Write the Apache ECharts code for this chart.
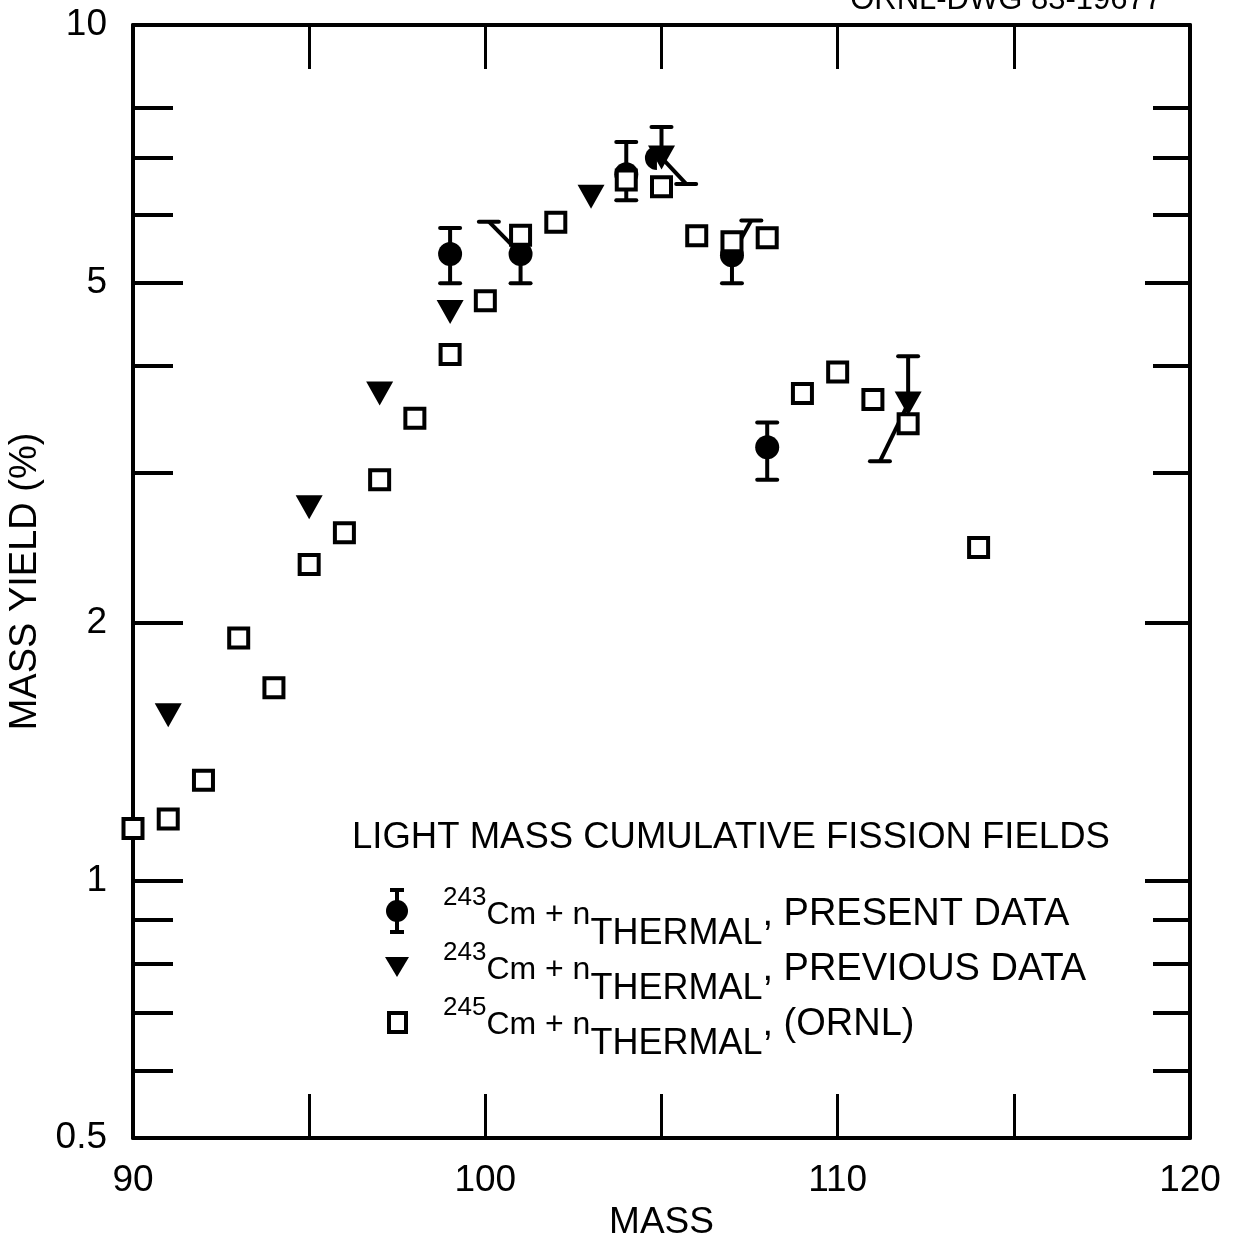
<!DOCTYPE html>
<html><head><meta charset="utf-8">
<script src="https://cdn.jsdelivr.net/npm/echarts@6/dist/echarts.min.js"></script>
<style>html,body{margin:0;padding:0;background:#fff}#c{width:1238px;height:1236px}</style>
</head><body><div id="c"></div>
<script>
// ---------------- data ----------------
const ornlX = [90, 91, 92, 93, 94, 95, 96, 97, 98, 99, 100, 101, 102, 104, 105, 106, 107, 108, 109, 110, 111, 112, 114];
const ornlY = [1.15, 1.18, 1.31, 1.92, 1.68, 2.34, 2.55, 2.94, 3.47, 4.12, 4.76, 5.68, 5.88, 6.59, 6.47, 5.67, 5.58, 5.64, 3.71, 3.93, 3.65, 3.42, 2.45];

const presentX = [99, 101, 104, 107, 108];
const presentY = [5.40, 5.40, 6.69, 5.38, 3.21];
const presentLow = [4.99, 4.99, 6.24, 4.99, 2.94];
const presentHigh = [5.79, null, 7.30, null, 3.43];
const presentHalfX = [104.7];
const presentHalfY = [6.99];

const previousX = [91, 95, 97, 99, 103, 105, 112];
const previousY = [1.56, 2.73, 3.71, 4.62, 6.30, 7.00, 3.61];
const previousHigh = [null, null, null, null, null, 7.60, 4.10];

// slanted error bars (from point to capped end)
const slantFromX = [101, 107, 105, 112];
const slantFromY = [5.40, 5.38, 7.00, 3.61];
const slantToX = [100.1, 107.55, 105.7, 111.2];
const slantToY = [5.89, 5.91, 6.52, 3.09];

const xLabelValues = [90, 100, 110, 120];
const xTickValues = [95, 100, 105, 110, 115];
const yLabelValues = [0.5, 1, 2, 5, 10];
const yMajorTicks = [1, 2, 5];
const yMinorTicks = [0.6, 0.7, 0.8, 0.9, 3, 4, 6, 7, 8];

// ---------------- build ----------------
const FONT = '"Liberation Sans", Arial, Helvetica, sans-serif';
const BLACK = '#000';

const vBars = [];
presentX.forEach((x, i) => {
  if (presentLow[i] != null) vBars.push([x, presentY[i], presentLow[i]]);
  if (presentHigh[i] != null) vBars.push([x, presentY[i], presentHigh[i]]);
});
previousX.forEach((x, i) => {
  if (previousHigh[i] != null) vBars.push([x, previousY[i], previousHigh[i]]);
});
const sBars = slantFromX.map((x, i) => [x, slantFromY[i], slantToX[i], slantToY[i]]);

const zip = (a, b) => a.map((v, i) => [v, b[i]]);

function capLine(px, py, half) {
  return { type: 'line', shape: { x1: px - half, y1: py, x2: px + half, y2: py },
    style: { stroke: BLACK, lineWidth: 4, lineCap: 'round' } };
}

const yAxisBase = (pos, ticks, len, showLine, showLabel) => ({
  type: 'log', logBase: 10, min: 0.5, max: 10, position: pos, gridIndex: 0,
  axisLine: { show: showLine, lineStyle: { color: BLACK, width: 4 } },
  axisTick: { show: true, inside: true, length: len, customValues: ticks,
    lineStyle: { color: BLACK, width: 4 } },
  axisLabel: { show: showLabel, customValues: yLabelValues, color: BLACK, fontSize: 37,
    fontFamily: FONT, margin: 26, formatter: v => String(+(+v).toPrecision(3)) },
  splitLine: { show: false }, minorTick: { show: false }, minorSplitLine: { show: false }
});

const xAxisBase = (pos, showLabel) => ({
  type: 'value', min: 90, max: 120, interval: 10, position: pos, gridIndex: 0,
  axisLine: { show: true, lineStyle: { color: BLACK, width: 4 } },
  axisTick: { show: true, inside: true, length: 44, customValues: xTickValues,
    lineStyle: { color: BLACK, width: 3 } },
  axisLabel: { show: showLabel, customValues: xLabelValues, color: BLACK, fontSize: 37,
    fontFamily: FONT, margin: 24 },
  splitLine: { show: false }
});

const xa0 = xAxisBase('bottom', true);
xa0.name = 'MASS';
xa0.nameLocation = 'middle';
xa0.nameGap = 64;
xa0.nameTextStyle = { color: BLACK, fontSize: 37, fontFamily: FONT };

const ya0 = yAxisBase('left', yMajorTicks, 50, true, true);
ya0.name = 'MASS YIELD (%)';
ya0.nameLocation = 'middle';
ya0.nameRotate = 90;
ya0.nameGap = 82;
ya0.nameTextStyle = { color: BLACK, fontSize: 38, fontFamily: FONT };

const legendRich = {
  sup: { fontSize: 26, fontFamily: FONT, fill: BLACK, padding: [0, 0, 34, 0] },
  cm: { fontSize: 32, fontFamily: FONT, fill: BLACK },
  sub: { fontSize: 36, fontFamily: FONT, fill: BLACK, padding: [38, 0, 0, 0] },
  main: { fontSize: 38, fontFamily: FONT, fill: BLACK }
};

const option = {
  animation: false,
  backgroundColor: '#fff',
  grid: { left: 133, right: 48, top: 25, bottom: 98, containLabel: false, outerBoundsMode: 'none' },
  xAxis: [xa0, xAxisBase('top', false)],
  yAxis: [
    ya0,
    yAxisBase('left', yMinorTicks, 40, false, false),
    yAxisBase('right', yMajorTicks, 45, true, false),
    yAxisBase('right', yMinorTicks, 37, false, false)
  ],
  series: [
    {
      type: 'custom', name: 'vertical error bars', z: 1, xAxisIndex: 0, yAxisIndex: 0,
      data: vBars, clip: false,
      renderItem: (params, api) => {
        const p = api.coord([api.value(0), api.value(1)]);
        const q = api.coord([api.value(0), api.value(2)]);
        return { type: 'group', children: [
          { type: 'line', shape: { x1: p[0], y1: p[1], x2: q[0], y2: q[1] },
            style: { stroke: BLACK, lineWidth: 4 } },
          capLine(q[0], q[1], 10)
        ] };
      }
    },
    {
      type: 'custom', name: 'slanted error bars', z: 1, xAxisIndex: 0, yAxisIndex: 0,
      data: sBars, clip: false,
      renderItem: (params, api) => {
        const p = api.coord([api.value(0), api.value(1)]);
        const q = api.coord([api.value(2), api.value(3)]);
        return { type: 'group', children: [
          { type: 'line', shape: { x1: p[0], y1: p[1], x2: q[0], y2: q[1] },
            style: { stroke: BLACK, lineWidth: 4 } },
          capLine(q[0], q[1], 10)
        ] };
      }
    },
    {
      type: 'scatter', name: 'present', z: 2, symbol: 'circle', symbolSize: 24,
      itemStyle: { color: BLACK, opacity: 1 }, data: zip(presentX, presentY)
    },
    {
      type: 'scatter', name: 'present (partly hidden)', z: 2,
      symbol: 'path://M10 0A10 10 0 0 0 10 20Z', symbolSize: [12, 24],
      itemStyle: { color: BLACK, opacity: 1 }, data: zip(presentHalfX, presentHalfY)
    },
    {
      type: 'scatter', name: 'ORNL', z: 3, symbol: 'rect', symbolSize: 19,
      itemStyle: { color: '#fff', borderColor: BLACK, borderWidth: 4, opacity: 1 },
      data: zip(ornlX, ornlY)
    },
    {
      type: 'scatter', name: 'previous', z: 4, symbol: 'triangle', symbolRotate: 180,
      symbolSize: [27, 24], itemStyle: { color: BLACK, opacity: 1 }, data: zip(previousX, previousY)
    }
  ],
  graphic: [
    { type: 'text', x: 1162, y: 16, z: 10,
      style: { text: 'ORNL-DWG 83-19677', font: '31px ' + FONT, fill: BLACK,
        textAlign: 'right', textVerticalAlign: 'bottom' } },
    { type: 'text', x: 352, y: 838, z: 10,
      style: { text: 'LIGHT MASS CUMULATIVE FISSION FIELDS', font: '36.5px ' + FONT, fill: BLACK,
        textAlign: 'left', textVerticalAlign: 'middle' } },
    // legend markers
    { type: 'line', z: 10, shape: { x1: 397, y1: 890, x2: 397, y2: 932 }, style: { stroke: BLACK, lineWidth: 4 } },
    { type: 'line', z: 10, shape: { x1: 390, y1: 890, x2: 404, y2: 890 }, style: { stroke: BLACK, lineWidth: 4 } },
    { type: 'line', z: 10, shape: { x1: 390, y1: 932, x2: 404, y2: 932 }, style: { stroke: BLACK, lineWidth: 4 } },
    { type: 'circle', z: 10, shape: { cx: 397, cy: 911, r: 11 }, style: { fill: BLACK } },
    { type: 'polygon', z: 10, shape: { points: [[385, 957], [409, 957], [397, 977]] }, style: { fill: BLACK } },
    { type: 'rect', z: 10, shape: { x: 389, y: 1013, width: 17, height: 19 }, style: { fill: '#fff', stroke: BLACK, lineWidth: 4 } },
    // legend texts
    { type: 'text', x: 443, y: 915, z: 10,
      style: { text: '{sup|243}{cm|Cm + n}{sub|THERMAL}{main|, PRESENT DATA}', rich: legendRich,
        textAlign: 'left', textVerticalAlign: 'middle' } },
    { type: 'text', x: 443, y: 970, z: 10,
      style: { text: '{sup|243}{cm|Cm + n}{sub|THERMAL}{main|, PREVIOUS DATA}', rich: legendRich,
        textAlign: 'left', textVerticalAlign: 'middle' } },
    { type: 'text', x: 443, y: 1025, z: 10,
      style: { text: '{sup|245}{cm|Cm + n}{sub|THERMAL}{main|, (ORNL)}', rich: legendRich,
        textAlign: 'left', textVerticalAlign: 'middle' } }
  ]
};

const chart = echarts.init(document.getElementById('c'), null, { renderer: 'canvas' });
chart.setOption(option);
</script>
</body></html>
